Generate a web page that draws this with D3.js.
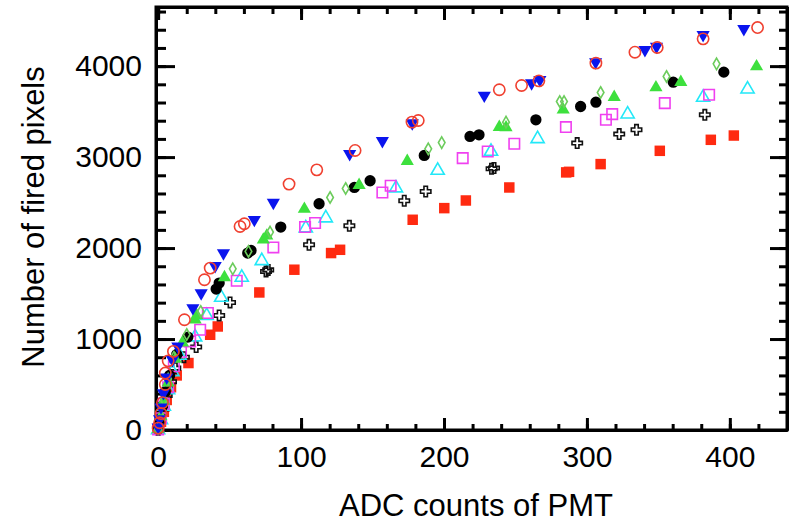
<!DOCTYPE html>
<html>
<head>
<meta charset="utf-8">
<script src="https://cdn.jsdelivr.net/npm/d3@7"></script>
<style>
  body { margin: 0; background: #fff; }
  text { font-family: "Liberation Sans", Arial, sans-serif; fill: #000; }
</style>
</head>
<body>
<script>
// ADC counts (x) vs number of fired pixels (y), one array per measured series
var redCircles = [[0,20],[1,80],[2,180],[3,300],[5,500],[5,626],[7,760],[10.7,864],[18.4,1212],[32.4,1652],[36.4,1780],[57.3,2237],[60.3,2267],[91.6,2703],[111,2860],[137.8,3073],[177.6,3385],[182,3402],[238.7,3740],[254.3,3787],[266.4,3838],[306.3,4033],[333.6,4153],[349.2,4205],[381.3,4300],[419.4,4424]];
var blueDown = [[0,30],[1,120],[2,250],[3.7,407],[6,580],[10,773],[13.8,919],[24.3,1341],[30.1,1505],[39.9,1805],[45.7,1945],[67.3,2311],[80.6,2500],[134,3036],[156.9,3179],[177.8,3373],[228.2,3677],[261.3,3813],[267.1,3849],[306.1,4044],[340.6,4179],[348.7,4215],[381.3,4344],[409.8,4410]];
var greenDiamonds = [[0,15],[2,150],[4,330],[7,560],[11,800],[20,1050],[29.8,1303],[52.2,1772],[63.2,1963],[78.3,2176],[120.3,2556],[131.2,2655],[189,3091],[198.4,3160],[243.4,3384],[281,3611],[284,3611],[309.6,3710],[355.7,3886],[390.7,4025]];
var greenUp = [[0,10],[2,150],[4,320],[7,520],[12,780],[17,960],[25.9,1212],[27,1260],[46.4,1677],[73.6,2091],[76,2135],[102.3,2429],[140.6,2692],[174.3,2956],[238.7,3330],[243.4,3325],[283.4,3520],[319.1,3659],[348.3,3765],[365.7,3824],[418.7,3996]];
var blackDots = [[0,10],[1,90],[3,260],[5,420],[8,600],[13,830],[20.8,1022],[40.6,1549],[42.7,1615],[62.7,1945],[65,1974],[85.8,2231],[112.6,2487],[137.3,2666],[148.3,2740],[186.2,3018],[218.2,3227],[224.5,3245],[264.3,3410],[295.6,3556],[306.3,3604],[360.4,3824],[395.8,3934]];
var magentaSquares = [[0,5],[2,130],[4,290],[7,470],[11,700],[16,860],[22.4,974],[29.4,1102],[34.8,1286],[55,1641],[80.6,2007],[102.8,2231],[109.8,2275],[156.9,2611],[162.7,2685],[213.1,2989],[230.6,3062],[249.2,3146],[285.3,3330],[313.3,3410],[317.7,3472],[354.5,3593],[385.5,3685]];
var cyanUp = [[0,0],[2,110],[4,260],[7,440],[10,640],[15,820],[25.9,1022],[34,1256],[44.1,1457],[58.5,1677],[72.5,1860],[103.3,2220],[117.3,2330],[166.4,2659],[195.6,2853],[232.9,3062],[265.5,3201],[328.5,3472],[381.3,3655],[412.4,3747]];
var blackCrosses = [[0,0],[2,100],[4,230],[6,380],[9,530],[12,680],[18,800],[26.6,912],[42.7,1259],[50.3,1402],[75.5,1743],[77,1760],[105.6,2036],[133.8,2245],[172.2,2520],[187.2,2622],[233.3,2871],[235,2880],[293.2,3154],[322.6,3253],[334.7,3300],[382.5,3465]];
var redSquares = [[0,5],[2,90],[4,200],[6,330],[9,470],[13,600],[21.2,736],[36.4,1047],[41.7,1138],[70.8,1512],[95.3,1762],[121,1945],[127.3,1981],[178.1,2311],[200.2,2439],[215.3,2523],[245.7,2666],[285.5,2832],[287.5,2838],[309.6,2923],[351,3069],[386.7,3190],[402.8,3237]];

var xMajor = [0, 100, 200, 300, 400];
var yMajor = [0, 1000, 2000, 3000, 4000];
var xTitle = "ADC counts of PMT";
var yTitle = "Number of fired pixels";

// marker style per series
var allSeries = [
    { data: redSquares,     shape: d3.symbolSquare,   size: 110, rot: 0,   fill: "#ff2a10", stroke: "none" },
    { data: blackCrosses,   shape: d3.symbolCross,    size: 60,  rot: 0,   fill: "none",    stroke: "#111" },
    { data: cyanUp,         shape: d3.symbolTriangle, size: 75,  rot: 0,   fill: "none",    stroke: "#22e8f8" },
    { data: magentaSquares, shape: d3.symbolSquare,   size: 110, rot: 0,   fill: "none",    stroke: "#f040f0" },
    { data: blackDots,      shape: d3.symbolCircle,   size: 100, rot: 0,   fill: "#000",    stroke: "none" },
    { data: greenUp,        shape: d3.symbolTriangle, size: 75,  rot: 0,   fill: "#3de03d", stroke: "none" },
    { data: greenDiamonds,  shape: d3.symbolDiamond,  size: 38,  rot: 0,   fill: "none",    stroke: "#6ccc5c" },
    { data: blueDown,       shape: d3.symbolTriangle, size: 75,  rot: 180, fill: "#0a14ee", stroke: "none" },
    { data: redCircles,     shape: d3.symbolCircle,   size: 100, rot: 0,   fill: "none",    stroke: "#f04030" }
];

function drawChart () {
    var width = 792,
        height = 522;

    var svg = d3.select("body").append("svg")
        .attr("width", width)
        .attr("height", height);

    var x = d3.scaleLinear().domain([-1.5, 440]).range([156, 787]);
    var y = d3.scaleLinear().domain([0, 4650]).range([430, 7]);

    var xMinor = d3.range(0, 441, 20);
    var yMinor = d3.range(0, 4601, 200);

    // ticks point inwards on all four sides
    function axisLayer (axis, tx, ty) {
        var g = svg.append("g")
            .attr("transform", "translate(" + tx + "," + ty + ")")
            .call(axis);
        g.selectAll("line").attr("stroke", "#000").attr("stroke-width", 3);
        g.select(".domain").attr("stroke", "#000").attr("stroke-width", 3);
        g.selectAll("text").attr("font-size", 30).attr("font-family", "Liberation Sans, Arial, sans-serif");
        return g;
    }

    axisLayer(d3.axisBottom(x).tickValues(xMinor).tickSize(-6).tickSizeOuter(0).tickFormat(""), 0, 430);
    axisLayer(d3.axisBottom(x).tickValues(xMajor).tickSize(-12).tickSizeOuter(0).tickPadding(16).tickFormat(d3.format("d")), 0, 430);
    axisLayer(d3.axisTop(x).tickValues(xMinor).tickSize(-7).tickSizeOuter(0).tickFormat(""), 0, 7);
    axisLayer(d3.axisTop(x).tickValues(xMajor).tickSize(-13).tickSizeOuter(0).tickFormat(""), 0, 7);

    axisLayer(d3.axisLeft(y).tickValues(yMinor).tickSize(-10).tickSizeOuter(0).tickFormat(""), 156, 0);
    axisLayer(d3.axisLeft(y).tickValues(yMajor).tickSize(-19).tickSizeOuter(0).tickPadding(14).tickFormat(d3.format("d")), 156, 0);
    axisLayer(d3.axisRight(y).tickValues(yMinor).tickSize(-8).tickSizeOuter(0).tickFormat(""), 787, 0);
    axisLayer(d3.axisRight(y).tickValues(yMajor).tickSize(-17).tickSizeOuter(0).tickFormat(""), 787, 0);

    // frame
    svg.append("rect")
        .attr("x", 156).attr("y", 7)
        .attr("width", 787 - 156).attr("height", 430 - 7)
        .attr("fill", "none")
        .attr("stroke", "#000")
        .attr("stroke-width", 3);

    var marks = svg.append("g").attr("class", "marks");
    allSeries.forEach(function (s) {
        var sym = d3.symbol().type(s.shape).size(s.size);
        marks.append("g")
            .selectAll("path")
            .data(s.data)
            .enter().append("path")
            .attr("d", sym)
            .attr("transform", function (d) {
                return "translate(" + x(d[0]) + "," + y(d[1]) + ") rotate(" + s.rot + ")";
            })
            .attr("fill", s.fill)
            .attr("stroke", s.stroke)
            .attr("stroke-width", 1.6);
    });

    svg.append("text")
        .attr("x", 476)
        .attr("y", 516)
        .attr("text-anchor", "middle")
        .attr("font-size", 31)
        .text(xTitle);

    svg.append("text")
        .attr("transform", "translate(44,217) rotate(-90)")
        .attr("text-anchor", "middle")
        .attr("font-size", 31)
        .text(yTitle);
}

drawChart();
</script>
</body>
</html>
